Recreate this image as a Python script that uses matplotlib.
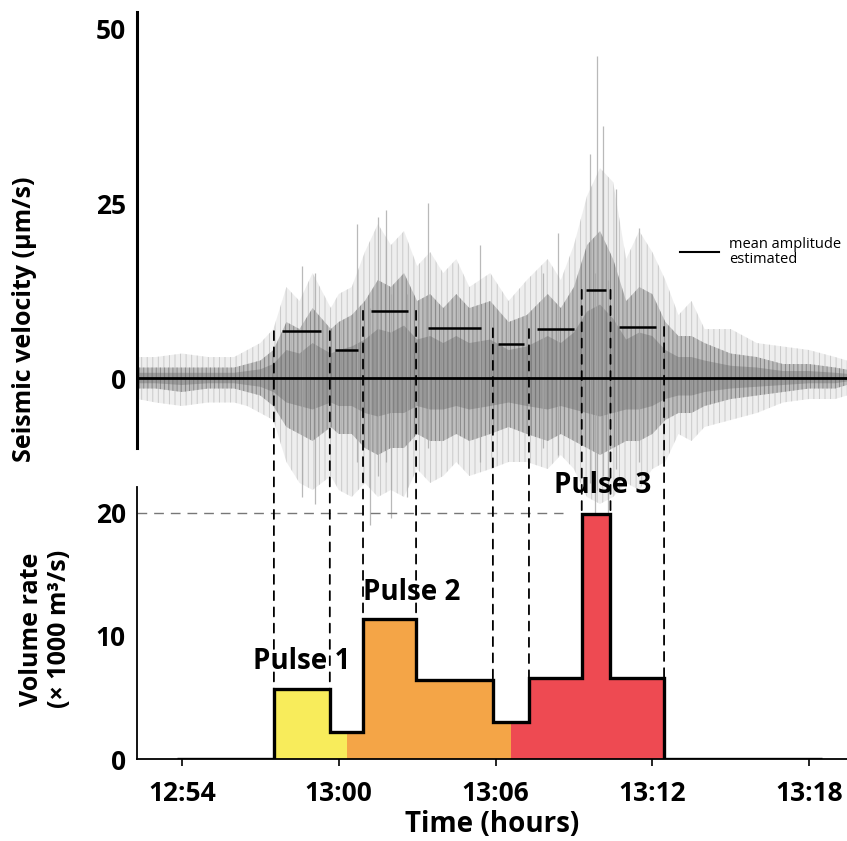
import matplotlib.pyplot as plt
import numpy as np
from matplotlib.patches import ConnectionPatch

plt.rcParams['font.family'] = ['Open Sans', 'DejaVu Sans']
plt.rcParams['hatch.linewidth'] = 0.7

# time axis: minutes after 12:00
# seismic trace envelope (um/s)
env_t = [52.3, 53, 54, 55, 56, 56.5, 57, 57.5, 58, 58.5, 59, 59.7, 60, 60.5, 61, 61.5, 62,
         62.5, 63, 63.5, 64, 64.5, 65, 65.8, 66.5, 67.2, 68, 68.5, 69, 69.5, 70, 70.5, 71,
         71.5, 72, 72.5, 73, 73.5, 74, 75, 76, 77, 78, 79, 79.45]
env_outer_hi = [3, 3, 3.5, 3, 3, 4, 5, 7, 13, 11, 15, 10, 12, 13, 18, 22, 19,
                21, 16, 18, 15, 17, 13, 15, 11, 14, 17, 14, 19, 26, 30, 28, 17,
                21, 18, 14, 9, 11, 7, 7, 5, 4.5, 4, 3, 2.5]
env_outer_lo = [-3, -3.5, -4, -3.5, -3.5, -4, -5, -6, -12, -15, -16, -14, -16, -17, -15, -17, -16,
                -17, -13, -15, -14, -12, -14, -13, -12, -12, -13, -11, -13, -17, -18, -17, -15,
                -16, -13, -12, -8, -9, -7, -6, -5, -3.5, -3, -3, -2.5]
env_dense_hi = [1.5, 1.5, 1.5, 1.5, 1.5, 2, 2.5, 4, 8, 7, 10, 7, 8, 9, 11, 14, 13,
                15, 11, 12, 10, 12, 10, 11, 8, 9, 12, 10, 13, 19, 21, 17, 11,
                13, 12, 8, 6, 6, 5, 3.5, 3, 2, 2, 1.5, 1.2]
env_dense_lo = [-1.5, -1.5, -2, -1.5, -1.5, -2, -2.5, -4, -7, -8, -9, -7, -8, -8, -10, -11, -10,
                -10, -8, -9, -9, -8, -9, -8, -7, -8, -9, -8, -9, -10, -11, -10, -9,
                -9, -8, -6, -5, -5, -4, -3, -2.5, -2, -1.5, -1.5, -1]

# isolated spikes
spike_t = [60.7, 61.5, 61.8, 62.6, 63.4, 65.4, 67.8, 68.4, 69.6, 69.9, 70.1, 70.6, 71.5,
           61.2, 62.0, 69.8, 70.3, 58.6, 59.1]
spike_hi = [22, 23, 24, 12, 25, 19, 15, 20.7, 32, 46, 36, 27, 21.5, 10, 12, 15, 14, 16, 15]
spike_lo = [-12, -14, -12, -17, -10, -12, -10, -11, -15, -16, -14, -13, -12, -21, -20, -23, -22,
            -17, -18]

# intervals between pulses boundaries and mean amplitude in each
seg_edges = [57.52, 59.66, 60.93, 62.96, 65.9, 67.28, 69.3, 70.4, 72.45]
mean_amp = [6.7, 4.0, 9.6, 7.1, 4.9, 7.0, 12.6, 7.3]

# volume rate (x 1000 m3/s)
rate_edges = [53.8] + seg_edges + [78.5]
rate_vals = [0, 5.7, 2.2, 11.4, 6.4, 3.0, 6.6, 19.9, 6.6, 0]

pulse_bounds = [57.52, 60.3, 66.6, 72.45]
pulse_names = ['Pulse 1', 'Pulse 2', 'Pulse 3']
pulse_colors = ['#f8ec5b', '#f4a547', '#ee4a52']

tick_minutes = [54, 60, 66, 72, 78]


def clip_stairs(edges, vals, a, b):
    # part of a stairs curve between a and b
    e = np.asarray(edges)
    v = np.asarray(vals)
    new_e = np.concatenate([[a], e[(e > a) & (e < b)], [b]])
    idx = np.searchsorted(e, new_e[:-1], side='right') - 1
    return new_e, v[idx]


fig = plt.figure(figsize=(8.47, 8.41), dpi=100)
ax1 = fig.add_axes([0.1617, 0.4673, 0.8383, 0.5184])
ax2 = fig.add_axes([0.1617, 0.0975, 0.8383, 0.3234])
ax1.patch.set_visible(False)
ax2.patch.set_visible(False)

xlim = (52.28, 79.45)

# --- seismic record ---
outer = ax1.fill_between(env_t, env_outer_lo, env_outer_hi, facecolor='#ececec',
                         edgecolor='#c4c4c4', hatch='|||', lw=0, alpha=0.85)
outer.set_clip_on(False)
dense = ax1.fill_between(env_t, env_dense_lo, env_dense_hi, facecolor='#a6a6a6',
                         edgecolor='#6a6a6a', hatch='||||', lw=0, alpha=0.65)
dense.set_clip_on(False)
core = ax1.fill_between(env_t, np.array(env_dense_lo) * 0.5, np.array(env_dense_hi) * 0.5,
                        facecolor='#5c5c5c', lw=0, alpha=0.35)
core.set_clip_on(False)
ax1.vlines(spike_t, spike_lo, spike_hi, color='#a8a8a8', lw=0.9, alpha=0.8, clip_on=False)
ax1.axhline(0, color='black', lw=2)

for i, amp in enumerate(mean_amp):
    a, b = seg_edges[i], seg_edges[i + 1]
    inset = 0.15 * (b - a)
    ax1.hlines(amp, a + inset, b - inset, color='black', lw=1.8)

ax1.plot([0.765, 0.82], [0.4495, 0.4495], transform=ax1.transAxes, color='black', lw=1.5)
ax1.text(0.834, 0.4495, 'mean amplitude\nestimated', transform=ax1.transAxes,
         fontsize=10.5, va='center', ha='left', linespacing=1.05)

ax1.set_xlim(xlim)
ax1.set_ylim(-10, 52.3)
ax1.set_yticks([0, 25, 50])
ax1.set_xticks([])
ax1.tick_params(axis='y', length=0, pad=8, labelsize=19)
for lab in ax1.get_yticklabels():
    lab.set_fontweight('bold')
for s in ['top', 'right', 'bottom']:
    ax1.spines[s].set_visible(False)
ax1.spines['left'].set_linewidth(2.2)

# --- volume rate ---
for i, col in enumerate(pulse_colors):
    e, v = clip_stairs(rate_edges, rate_vals, pulse_bounds[i], pulse_bounds[i + 1])
    ax2.stairs(v, e, fill=True, color=col, lw=0)
ax2.stairs(rate_vals, rate_edges, baseline=None, color='black', lw=2.4)
ax2.hlines(20, xlim[0], 68.6, color='#777777', lw=1, linestyles=(0, (7, 5)))

ax2.text(58.6, 7.9, pulse_names[0], fontsize=20, fontweight='bold', ha='center', va='center')
ax2.text(62.8, 13.5, pulse_names[1], fontsize=20, fontweight='bold', ha='center', va='center')
ax2.text(70.1, 22.2, pulse_names[2], fontsize=20, fontweight='bold', ha='center', va='center')

ax2.set_xlim(xlim)
ax2.set_ylim(0, 22.1)
ax2.set_yticks([0, 10, 20])
ax2.set_xticks(tick_minutes)
ax2.set_xticklabels([f"{12 + m // 60}:{m % 60:02d}" for m in tick_minutes])
ax2.tick_params(axis='y', length=0, pad=8, labelsize=19)
ax2.tick_params(axis='x', length=5, width=1.2, pad=10, labelsize=19)
for lab in ax2.get_yticklabels() + ax2.get_xticklabels():
    lab.set_fontweight('bold')
for s in ['top', 'right']:
    ax2.spines[s].set_visible(False)
ax2.spines['left'].set_linewidth(1.3)
ax2.spines['bottom'].set_linewidth(1.3)
ax2.set_xlabel('Time (hours)', fontsize=20, fontweight='bold', labelpad=2)

# dashed lines linking both panels at the interval boundaries
for i, x in enumerate(seg_edges):
    left = mean_amp[i - 1] if i > 0 else 0
    right = mean_amp[i] if i < len(mean_amp) else 0
    top = max(left, right)
    bottom = max(rate_vals[i], rate_vals[i + 1])
    con = ConnectionPatch(xyA=(x, top), coordsA=ax1.transData,
                          xyB=(x, bottom), coordsB=ax2.transData,
                          color='black', lw=1.3, linestyle=(0, (5, 4)))
    fig.add_artist(con)

fig.text(0.0295, 0.62, 'Seismic velocity (μm/s)', rotation=90, fontsize=18,
         fontweight='bold', ha='center', va='center')
fig.text(0.054, 0.252, 'Volume rate\n(× 1000 m³/s)', rotation=90, fontsize=18,
         fontweight='bold', ha='center', va='center', multialignment='center',
         linespacing=1.15)

fig.savefig('out.png', dpi=100)
